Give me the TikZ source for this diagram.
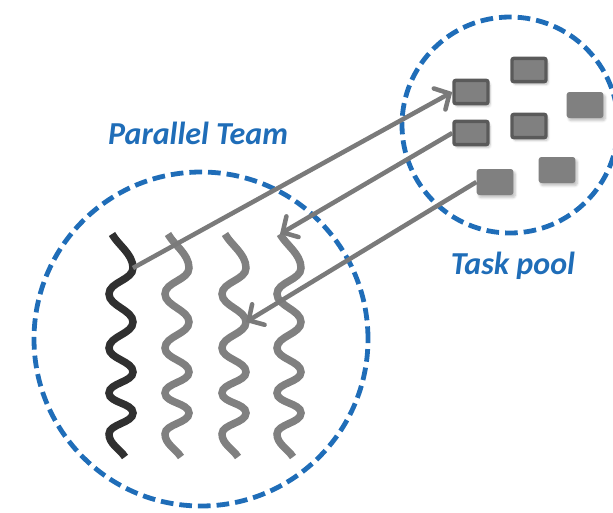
\documentclass[tikz,border=0pt]{standalone}
\usepackage{fontspec}
\newfontfamily\labelfont{Carlito}
\usetikzlibrary{arrows.meta,shadows.blur}
\definecolor{poolblue}{HTML}{1F6DB8}
\definecolor{taskgray}{HTML}{808080}
\definecolor{taskedge}{HTML}{5A5A5A}
\definecolor{threaddark}{HTML}{303030}

\tikzset{
  ringline/.style={circle,draw=poolblue,line width=3.6pt,dash pattern=on 9.5pt off 4.5pt,inner sep=0pt},
  taskbox/.style={draw=taskedge,fill=taskgray,line width=2.6pt,minimum width=25.5pt,minimum height=17.5pt,rounded corners=1.5pt,inner sep=0pt,
    blur shadow={shadow xshift=1.5pt,shadow yshift=-2pt,shadow blur steps=6,shadow opacity=25}},
  taskplain/.style={fill=taskgray,minimum width=27.5pt,minimum height=19.5pt,rounded corners=2pt,inner sep=0pt,
    blur shadow={shadow xshift=1.5pt,shadow yshift=-2pt,shadow blur steps=6,shadow opacity=25}},
  biglabel/.style={text=poolblue,font=\labelfont\bfseries\itshape\fontsize{24}{28}\selectfont},
  handoff/.style={draw=taskgray!95!black,line width=3.4pt,-{Straight Barb[length=8.5pt,width=18pt,line width=3.4pt,line cap=round]}},
}

\begin{document}
\begin{tikzpicture}[x=0.75pt,y=-0.75pt]
\useasboundingbox (0,0) rectangle (613,512);

%%% team and pool rings
\node[ringline,minimum size=250.5pt] (team) at (201,339) {};
\node[ringline,minimum size=162pt] (pool) at (510,125) {};

\node[biglabel] (teamlabel) at (198,133) {Parallel Team};
\node[biglabel] (poollabel) at (513,266) {Task pool};

%%% tasks
\node[taskbox] (task1) at (471,92) {};
\node[taskbox] (task2) at (529,70) {};
\node[taskplain] (task3) at (585,105) {};
\node[taskbox] (task4) at (471,133) {};
\node[taskbox] (task5) at (529,126) {};
\node[taskplain] (task6) at (557,170) {};
\node[taskplain] (task7) at (495,182) {};

%%% threads
\foreach \i/\c/\col in {1/121/threaddark,2/177/taskgray,3/234/taskgray,4/289/taskgray}{
  \draw[\col,line width=5.6pt] (\c-9,234) coordinate (top\i)
    .. controls (\c-3,245) and (\c+12,254) .. (\c+12,268) coordinate (bend\i)
    .. controls +(0,12) and +(0,-12) .. (\c-12,294)
    .. controls +(0,12) and +(0,-12) .. (\c+12,322) coordinate (mid\i)
    .. controls +(0,12) and +(0,-12) .. (\c-12,348)
    .. controls +(0,11) and +(0,-11) .. (\c+12,372)
    .. controls +(0,10) and +(0,-10) .. (\c-12,393)
    .. controls +(0,10) and +(0,-10) .. (\c+12,413)
    .. controls +(0,10) and +(0,-10) .. (\c-12,434)
    .. controls +(0,10) and +(-5,-8) .. (\c+4,457);
}

%%% hand-offs between team and pool
\draw[handoff] (bend1) -- (task1.west);
\draw[handoff] (task4.west) -- (top4);
\draw[handoff] (task7.west) -- (mid3);

\end{tikzpicture}
\end{document}
